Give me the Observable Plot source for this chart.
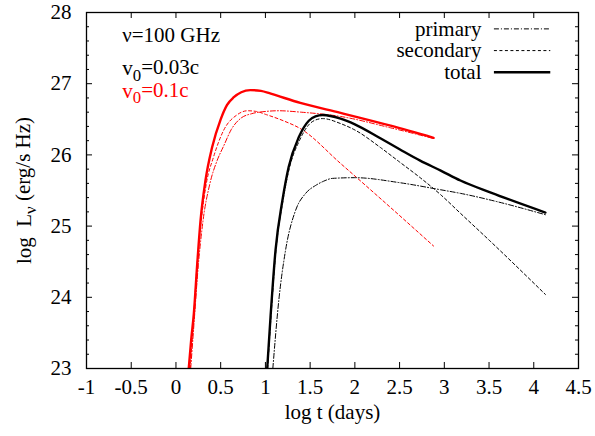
<!DOCTYPE html>
<html><head><meta charset="utf-8">
<script src="https://cdn.jsdelivr.net/npm/d3@7"></script>
<script src="https://cdn.jsdelivr.net/npm/@observablehq/plot@0.6"></script>
<style>
body{margin:0;background:#fff}
svg, svg text{font-family:"Liberation Serif","Times New Roman",serif !important}
</style>
</head><body><div id="chart"></div>
<script>
// ---- axes ----
const xTicks = [-1, -0.5, 0, 0.5, 1, 1.5, 2, 2.5, 3, 3.5, 4, 4.5];
const yTicks = [23, 24, 25, 26, 27, 28];
const yMinor = [23.2, 23.4, 23.6, 23.8, 24.2, 24.4, 24.6, 24.8, 25.2, 25.4, 25.6, 25.8,
                26.2, 26.4, 26.6, 26.8, 27.2, 27.4, 27.6, 27.8];

// ---- v0 = 0.1c (red) ----
const redTotalX = [0.143, 0.17, 0.20, 0.238, 0.275, 0.33, 0.405, 0.50, 0.57, 0.647, 0.73, 0.83, 0.95, 1.06, 1.39, 1.84, 2.4, 2.88];
const redTotalY = [23.0, 23.4, 23.77, 24.47, 25.08, 25.64, 26.11, 26.5, 26.7, 26.81, 26.88, 26.91, 26.9, 26.86, 26.73, 26.59, 26.41, 26.24];
const redPrimX = [0.165, 0.2, 0.25, 0.3, 0.38, 0.46, 0.535, 0.62, 0.72, 0.85, 1.0, 1.15, 1.4, 1.84, 2.4, 2.88];
const redPrimY = [23.0, 23.6, 24.45, 25.05, 25.6, 25.92, 26.13, 26.36, 26.51, 26.58, 26.61, 26.62, 26.6, 26.54, 26.38, 26.23];
const redSecX = [0.158, 0.19, 0.23, 0.28, 0.34, 0.42, 0.535, 0.68, 0.8, 0.9, 1.0, 1.2, 1.39, 1.84, 2.4, 2.88];
const redSecY = [23.0, 23.55, 24.35, 25.05, 25.6, 25.97, 26.35, 26.56, 26.62, 26.61, 26.57, 26.48, 26.37, 25.88, 25.26, 24.72];

// ---- v0 = 0.03c (black) ----
const blkTotalX = [1.02, 1.057, 1.113, 1.19, 1.26, 1.374, 1.485, 1.56, 1.64, 1.84, 2.0, 2.29, 2.5, 2.73, 2.96, 3.18, 3.52, 4.13];
const blkTotalY = [23.0, 23.72, 24.66, 25.36, 25.83, 26.25, 26.48, 26.54, 26.56, 26.51, 26.43, 26.23, 26.08, 25.92, 25.78, 25.64, 25.47, 25.19];
const blkPrimX = [1.083, 1.15, 1.225, 1.337, 1.45, 1.56, 1.65, 1.75, 2.0, 2.5, 2.96, 3.18, 3.6, 4.13];
const blkPrimY = [23.0, 23.96, 24.66, 25.22, 25.46, 25.57, 25.63, 25.67, 25.68, 25.61, 25.51, 25.46, 25.34, 25.16];
const blkSecX = [1.025, 1.062, 1.118, 1.195, 1.265, 1.38, 1.49, 1.56, 1.64, 1.84, 2.0, 2.29, 2.5, 2.73, 2.96, 3.18, 3.52, 4.13];
const blkSecY = [23.0, 23.72, 24.66, 25.35, 25.8, 26.2, 26.43, 26.49, 26.51, 26.44, 26.35, 26.1, 25.9, 25.68, 25.44, 25.18, 24.78, 24.04];

// ---- legend & annotations ----
const legendLabels = ["primary", "secondary", "total"];
const legendY = [27.77, 27.465, 27.16];
const legendTextX = 3.416, legendLineX1 = 3.56, legendLineX2 = 4.19;
const annoText = ["ν=100 GHz", "v_0=0.03c", "v_0=0.1c"];
const annoX = [-0.6, -0.6, -0.6];
const annoY = [27.68, 27.21, 26.89];
const annoColor = ["black", "black", "red"];

const styles = {
  primary: {strokeWidth: 1, strokeDasharray: "5,2,1,2"},
  secondary: {strokeWidth: 1, strokeDasharray: "3,2.5"},
  total: {strokeWidth: 2.4, strokeDasharray: null}
};

const series = [
  {xs: redPrimX, ys: redPrimY, color: "red", kind: "primary"},
  {xs: redSecX, ys: redSecY, color: "red", kind: "secondary"},
  {xs: redTotalX, ys: redTotalY, color: "red", kind: "total"},
  {xs: blkPrimX, ys: blkPrimY, color: "black", kind: "primary"},
  {xs: blkSecX, ys: blkSecY, color: "black", kind: "secondary"},
  {xs: blkTotalX, ys: blkTotalY, color: "black", kind: "total"}
];

const FS = 21;
const tx = 6 / 89.45, ty = 6 / 71.15; // inward tick lengths (data units)
const FONT = '"Liberation Serif", "Times New Roman", serif';

const lineMarks = series.map(s => Plot.line(s.xs.map((x, i) => ({x, y: s.ys[i]})), {
  x: "x", y: "y", stroke: s.color, curve: "monotone-x",
  strokeWidth: styles[s.kind].strokeWidth,
  strokeDasharray: styles[s.kind].strokeDasharray || undefined,
  clip: true
}));

const legendMarks = legendLabels.flatMap((lab, i) => [
  Plot.text([lab], {x: legendTextX, y: legendY[i], text: d => d, textAnchor: "end", fontSize: FS, fill: "black"}),
  Plot.ruleY([legendY[i]], {x1: legendLineX1, x2: legendLineX2, stroke: "black",
    strokeWidth: styles[lab].strokeWidth, strokeDasharray: styles[lab].strokeDasharray || undefined})
]);

const plot = Plot.plot({
  width: 595, height: 436,
  marginLeft: 86, marginRight: 17, marginTop: 12, marginBottom: 68,
  x: {domain: [-1, 4.5]},
  y: {domain: [23, 28]},
  style: {fontFamily: FONT, fontSize: FS + "px", background: "white"},
  marks: [
    Plot.axisX({ticks: xTicks, tickSize: 0, tickPadding: 11, tickFormat: d => String(d), fontSize: FS,
      label: "log t (days)", labelAnchor: "center", labelArrow: "none", labelOffset: 50}),
    Plot.axisY({ticks: yTicks, tickSize: 0, tickPadding: 15, tickFormat: d => String(d), fontSize: FS,
      label: "log Lν (erg/s Hz)", labelAnchor: "center", labelArrow: "none", labelOffset: 70}),
    Plot.ruleX(xTicks, {x: d => d, y1: 23, y2: 23 + ty, stroke: "black"}),
    Plot.ruleX(xTicks, {x: d => d, y1: 28, y2: 28 - ty, stroke: "black"}),
    Plot.ruleY(yTicks, {y: d => d, x1: -1, x2: -1 + tx, stroke: "black"}),
    Plot.ruleY(yTicks, {y: d => d, x1: 4.5, x2: 4.5 - tx, stroke: "black"}),
    Plot.ruleY(yMinor, {y: d => d, x1: -1, x2: -1 + tx / 2, stroke: "black"}),
    Plot.ruleY(yMinor, {y: d => d, x1: 4.5, x2: 4.5 - tx / 2, stroke: "black"}),
    ...lineMarks,
    Plot.text(annoText, {x: (d, i) => annoX[i], y: (d, i) => annoY[i], text: d => d,
      fill: (d, i) => annoColor[i], textAnchor: "start", fontSize: FS}),
    ...legendMarks,
    Plot.frame({stroke: "black", strokeWidth: 1.3})
  ]
});

const svg = d3.select(plot);
svg.attr("font-family", FONT);
svg.selectAll("text").each(function() {
  const t = d3.select(this);
  t.attr("font-family", FONT);
  const s = t.text();
  if (s.includes("_")) {
    const [a, b] = s.split("_");
    t.text("");
    t.append("tspan").text(a);
    t.append("tspan").attr("dy", "0.3em").attr("font-size", "0.8em").text(b[0]);
    t.append("tspan").attr("dy", "-0.3em").text(b.slice(1));
  }
});
svg.selectAll('g[aria-label="y-axis label"] text').each(function() {
  const t = d3.select(this);
  t.text("");
  t.append("tspan").text("log  L");
  t.append("tspan").attr("dy", "0.3em").attr("font-size", "0.8em").text("ν");
  t.append("tspan").attr("dy", "-0.3em").text(" (erg/s Hz)");
});
document.getElementById("chart").appendChild(plot);
</script>
</body></html>
